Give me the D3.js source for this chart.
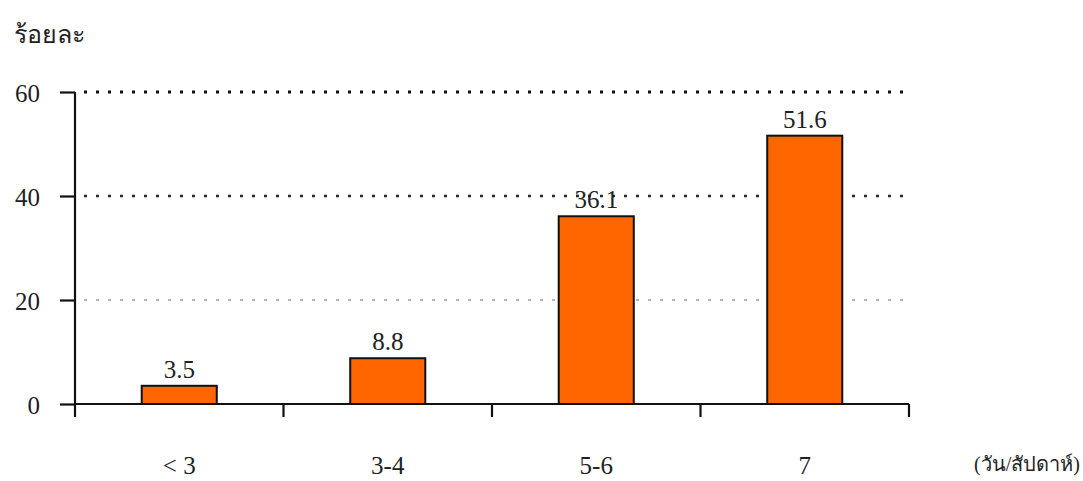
<!DOCTYPE html>
<html>
<head>
<meta charset="utf-8">
<script src="https://cdn.jsdelivr.net/npm/d3@7/dist/d3.min.js"></script>
<style>
  html, body { margin: 0; padding: 0; background: #fff; }
  svg { display: block; }
  text { font-family: "Liberation Serif", "Times New Roman", serif; fill: #222; }
</style>
</head>
<body>
<svg id="chart" width="1083" height="481"></svg>
<script>
// Days per week categories and the percentage in each
const categories = ["< 3", "3-4", "5-6", "7"];
const percents = [3.5, 8.8, 36.1, 51.6];
const yTicks = [0, 20, 40, 60];
const yTitle = "ร้อยละ";
const xUnit = "(วัน/สัปดาห์)";

const svg = d3.select("#chart");
const plotLeft = 75, plotRight = 909, plotTop = 92, plotBottom = 404;
const fontPx = 25;

const x = d3.scaleBand().domain(categories).range([plotLeft, plotRight]).padding(0);
const y = d3.scaleLinear().domain([0, 60]).range([plotBottom, plotTop]);
const barW = x.bandwidth() * 0.36;

// Dotted horizontal gridlines
const gridStyle = { 60: ["#111", 2.8], 40: ["#2a2a2a", 2.3], 20: ["#b5b5b5", 2] };
svg.append("g").selectAll("line")
  .data(yTicks.filter(d => d > 0))
  .join("line")
  .attr("x1", plotLeft + 9).attr("x2", plotRight)
  .attr("y1", d => y(d)).attr("y2", d => y(d))
  .attr("stroke", d => gridStyle[d][0])
  .attr("stroke-width", d => gridStyle[d][1])
  .attr("stroke-dasharray", "3 9");

const rows = categories.map((c, i) => ({ c, v: percents[i] }));

// Bars
svg.append("g").selectAll("rect")
  .data(rows)
  .join("rect")
  .attr("x", d => x(d.c) + (x.bandwidth() - barW) / 2)
  .attr("y", d => y(d.v))
  .attr("width", barW)
  .attr("height", d => y(0) - y(d.v))
  .attr("fill", "#ff6600")
  .attr("stroke", "#111")
  .attr("stroke-width", 2);

// Value labels above bars
svg.append("g").selectAll("text")
  .data(rows)
  .join("text")
  .attr("x", d => x(d.c) + x.bandwidth() / 2)
  .attr("y", d => y(d.v) - 8)
  .attr("text-anchor", "middle")
  .attr("font-size", fontPx)
  .text(d => d.v.toFixed(1));

// Y axis
const yAxis = svg.append("g")
  .attr("transform", `translate(${plotLeft},0)`)
  .call(d3.axisLeft(y).tickValues(yTicks).tickSize(15).tickPadding(20).tickFormat(d3.format("d")));
yAxis.select(".domain").attr("stroke", "#111").attr("stroke-width", 2.2)
  .attr("d", `M0,${plotTop}V${plotBottom + 13}`);
yAxis.selectAll(".tick line").attr("stroke", "#111").attr("stroke-width", 2.2);
yAxis.selectAll(".tick text")
  .attr("font-family", "Liberation Serif, serif")
  .attr("font-size", fontPx).attr("fill", "#222").attr("dy", "0.38em");

// X axis line and category boundary ticks
svg.append("line")
  .attr("x1", plotLeft).attr("x2", plotRight)
  .attr("y1", plotBottom).attr("y2", plotBottom)
  .attr("stroke", "#111").attr("stroke-width", 2.2);
const bounds = categories.map(c => x(c)).concat([x.range()[1]]);
svg.append("g").selectAll("line")
  .data(bounds.slice(1))
  .join("line")
  .attr("x1", d => d).attr("x2", d => d)
  .attr("y1", plotBottom).attr("y2", plotBottom + 13)
  .attr("stroke", "#111").attr("stroke-width", 2.2);

// Category labels
svg.append("g").selectAll("text")
  .data(categories)
  .join("text")
  .attr("x", d => x(d) + x.bandwidth() / 2)
  .attr("y", 474)
  .attr("text-anchor", "middle")
  .attr("font-size", fontPx)
  .text(d => d);

// Axis titles
svg.append("text")
  .attr("x", 14).attr("y", 43)
  .attr("font-size", 25)
  .text(yTitle);
svg.append("text")
  .attr("x", 1080).attr("y", 471)
  .attr("text-anchor", "end")
  .attr("font-size", 20)
  .text(xUnit);
</script>
</body>
</html>
